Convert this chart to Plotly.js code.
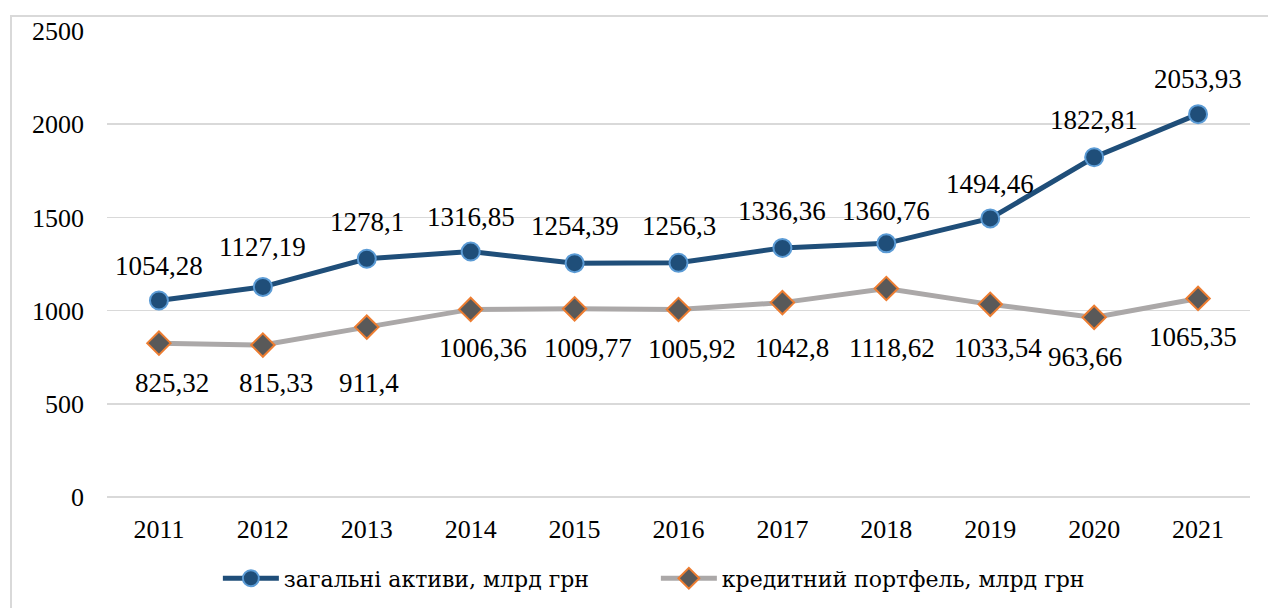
<!DOCTYPE html>
<html>
<head>
<meta charset="utf-8">
<script src="https://cdn.plot.ly/plotly-3.0.1.min.js"></script>
<style>
html,body{margin:0;padding:0;background:#fff;overflow:hidden;}
#wrap{position:absolute;left:10px;top:15px;width:1258px;height:593px;border-left:2px solid #d9d9d9;border-top:2px solid #d9d9d9;}
#chart{width:1256px;height:591px;}
</style>
</head>
<body>
<div id="wrap"><div id="chart"></div></div>
<script>
const years = ['2011','2012','2013','2014','2015','2016','2017','2018','2019','2020','2021'];
const totalAssets = [1054.28,1127.19,1278.1,1316.85,1254.39,1256.3,1336.36,1360.76,1494.46,1822.81,2053.93];
const loanPortfolio = [825.32,815.33,911.4,1006.36,1009.77,1005.92,1042.8,1118.62,1033.54,963.66,1065.35];
const assetsName = 'загальні активи, млрд грн';
const loansName = 'кредитний портфель, млрд грн';

// label placement offsets (pixels)
const assetsShiftY = [34,40,37,35,37,37,37,32,34,37,35];
const assetsShiftX = [0,0,0,0,0,0,0,0,0,0,0];
const loansShiftY = [-40,-38,-56,-39,-39,-39,-45,-60,-44,-40,-39];
const loansShiftX = [13,13,2,12,13,13,10,6,8,-9,-5];

const fmt = v => String(v).replace('.', ',');
const FONT = 'Liberation Serif';
const CYR_FONT = 'DejaVu Serif';

const traces = [
  {x: years, y: totalAssets, name: assetsName, type: 'scatter', mode: 'lines+markers',
   line: {color: '#1F4E79', width: 5},
   marker: {symbol: 'circle', size: 18, color: '#1F4E79', line: {color: '#5B9BD5', width: 2}}},
  {x: years, y: loanPortfolio, name: loansName, type: 'scatter', mode: 'lines+markers',
   line: {color: '#ABA8A8', width: 5},
   marker: {symbol: 'diamond', size: 18, color: '#595959', line: {color: '#ED7D31', width: 2}}}
];

const annotations = [];
years.forEach((yr, i) => {
  annotations.push({x: i, y: totalAssets[i], text: fmt(totalAssets[i]), showarrow: false,
    xref: 'x', yref: 'y', yshift: assetsShiftY[i], xshift: assetsShiftX[i],
    font: {family: FONT, size: 27, color: '#000'}});
  annotations.push({x: i, y: loanPortfolio[i], text: fmt(loanPortfolio[i]), showarrow: false,
    xref: 'x', yref: 'y', yshift: loansShiftY[i], xshift: loansShiftX[i],
    font: {family: FONT, size: 27, color: '#000'}});
});

const layout = {
  width: 1256, height: 591,
  margin: {l: 95, r: 18, t: 14, b: 111},
  paper_bgcolor: '#fff', plot_bgcolor: '#fff',
  font: {family: FONT, size: 26, color: '#000'},
  showlegend: true,
  legend: {orientation: 'h', x: 0.097, xanchor: 'left', yref: 'container', y: 0.05, yanchor: 'middle',
    font: {family: CYR_FONT, size: 22, color: '#000'}, entrywidth: 367, itemwidth: 56},
  xaxis: {type: 'category', range: [-0.5, 10.5], showgrid: false, showline: false,
    zeroline: false, ticks: '', ticklabelstandoff: 14, tickfont: {family: FONT, size: 26}},
  yaxis: {range: [0, 2500], dtick: 500, showgrid: true, gridcolor: '#D9D9D9', gridwidth: 1.5,
    zeroline: true, zerolinecolor: '#D9D9D9', zerolinewidth: 1.5, showline: false, ticks: '',
    ticklabelstandoff: 22, tickfont: {family: FONT, size: 26}},
  annotations: annotations
};

Plotly.newPlot('chart', traces, layout, {displayModeBar: false, staticPlot: true});
</script>
</body>
</html>
